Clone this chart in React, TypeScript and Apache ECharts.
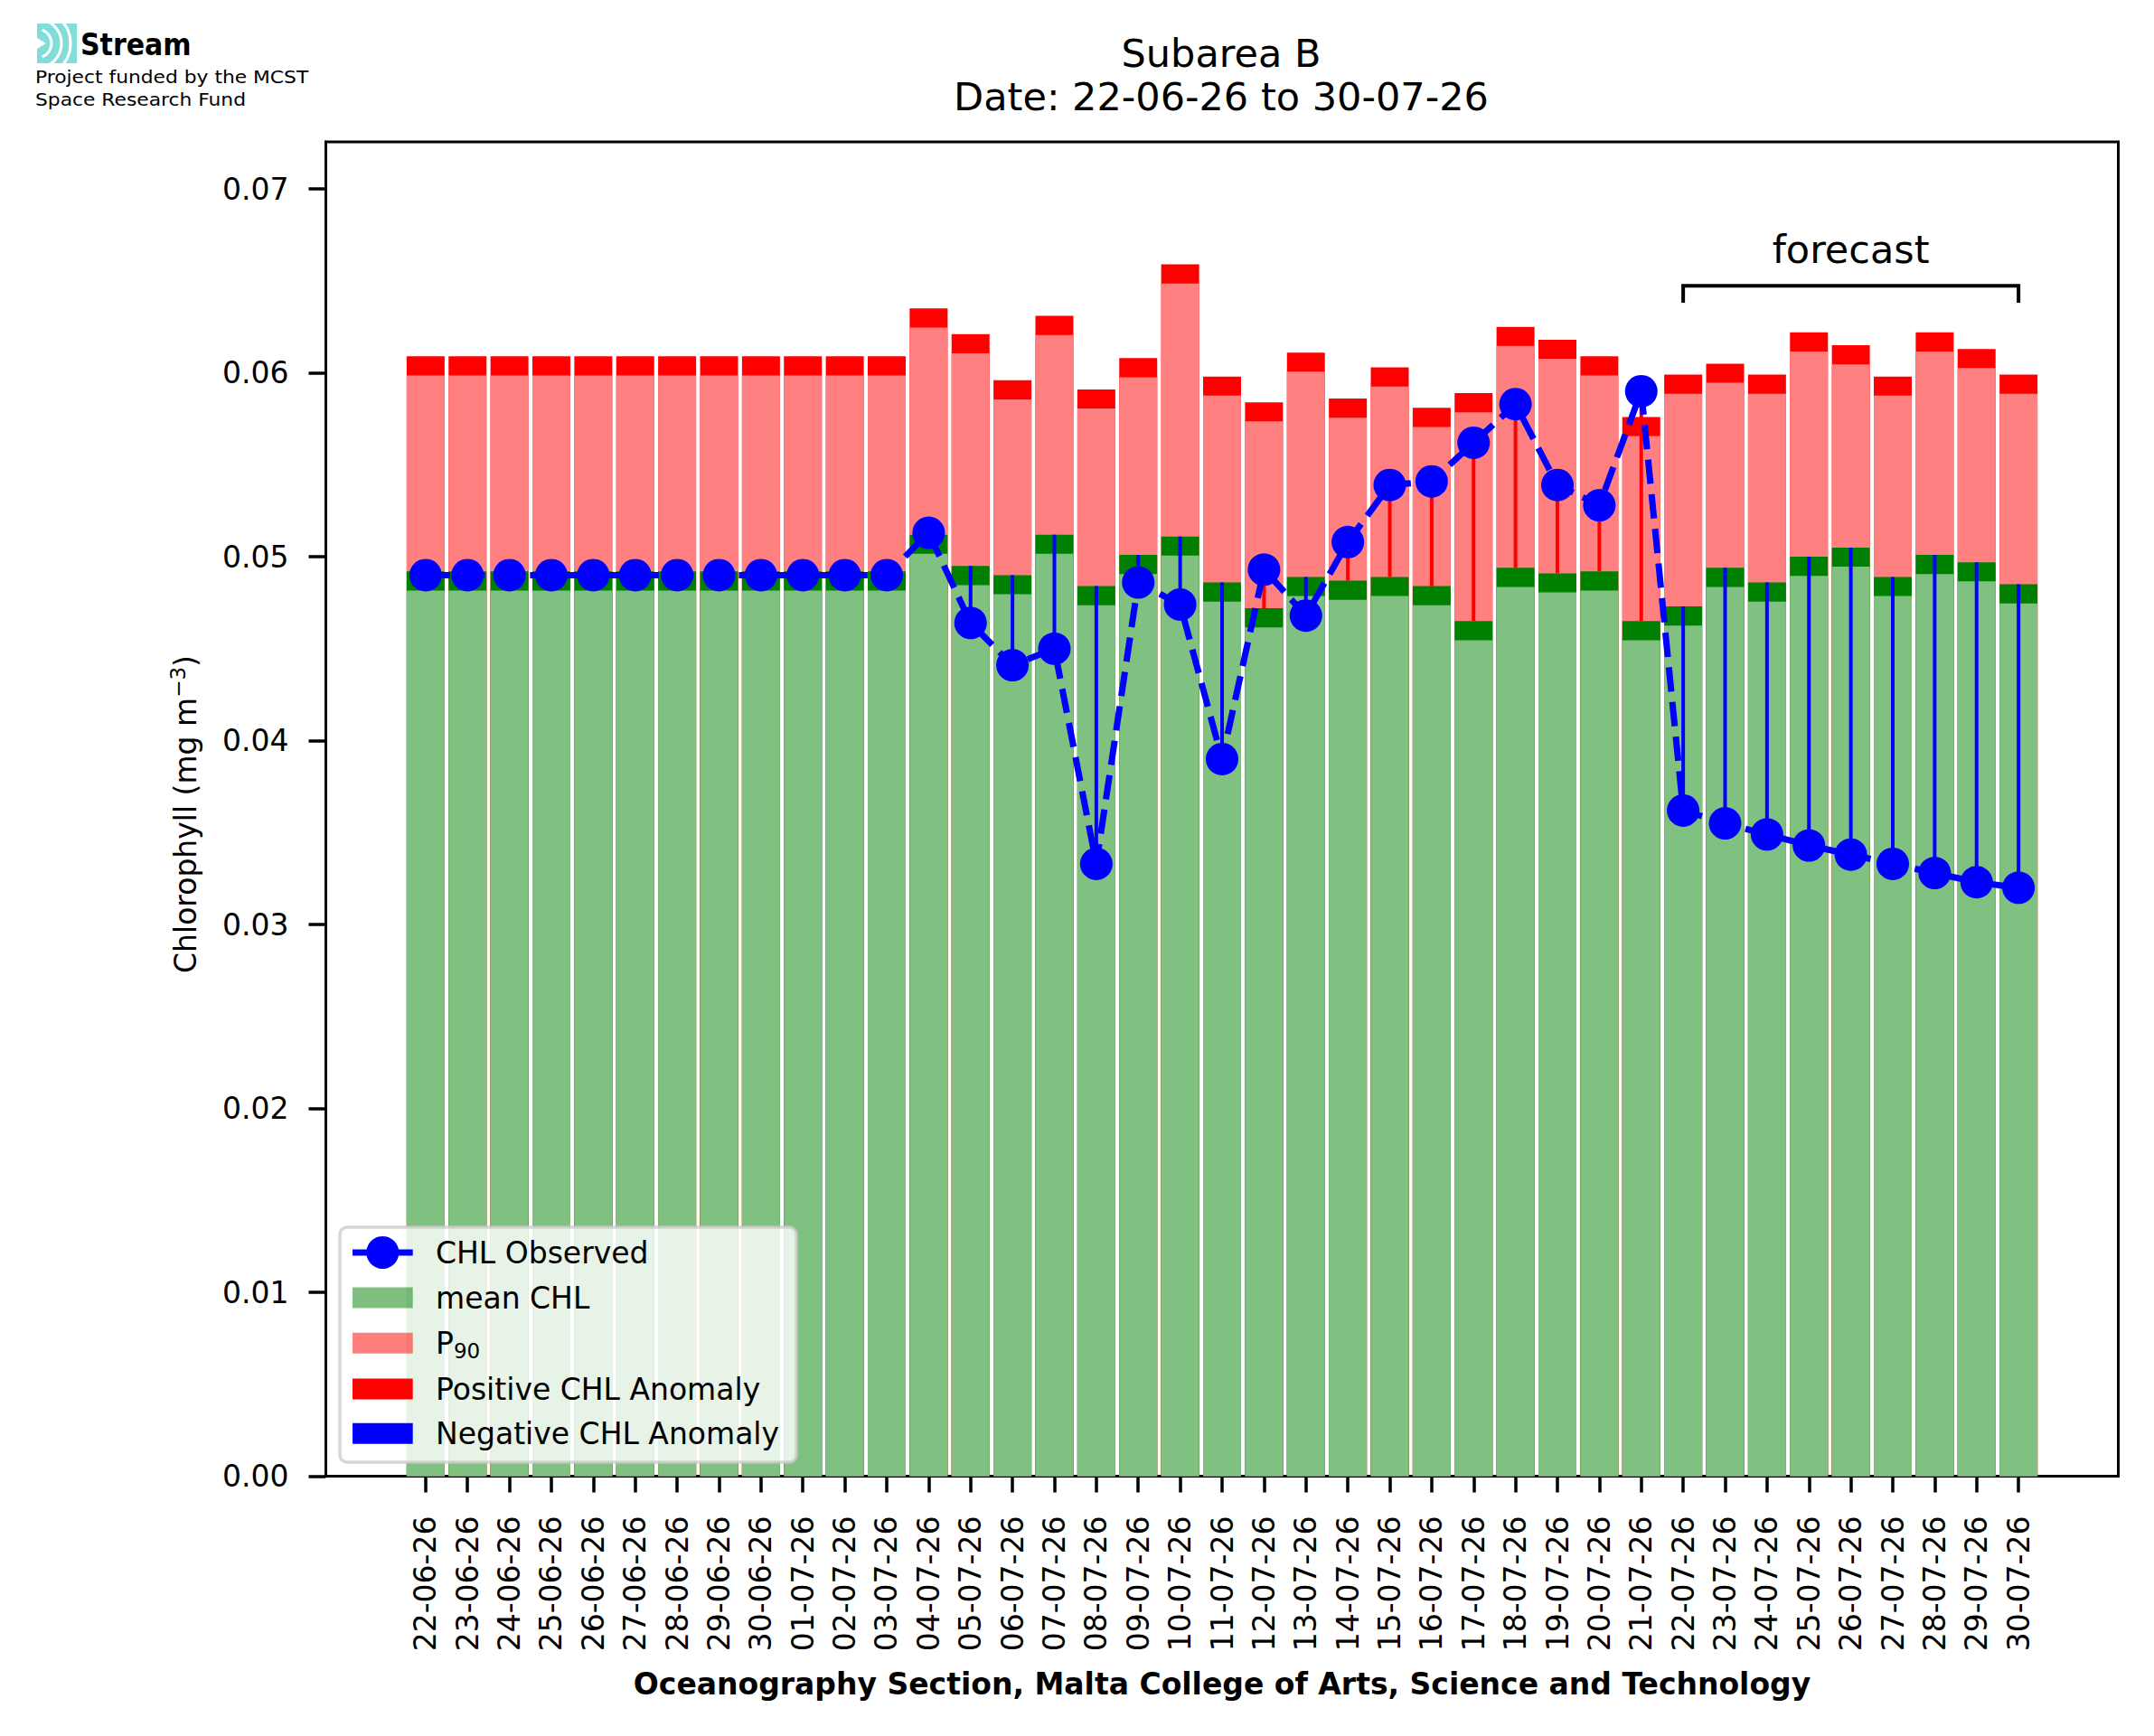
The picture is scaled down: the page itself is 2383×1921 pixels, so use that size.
import React, { useEffect, useRef } from "react";
import * as echarts from "echarts";

// ---- data ----
const dates = [
  "22-06-26", "23-06-26", "24-06-26", "25-06-26", "26-06-26", "27-06-26", "28-06-26", "29-06-26", "30-06-26",
  "01-07-26", "02-07-26", "03-07-26", "04-07-26", "05-07-26", "06-07-26", "07-07-26", "08-07-26", "09-07-26",
  "10-07-26", "11-07-26", "12-07-26", "13-07-26", "14-07-26", "15-07-26", "16-07-26", "17-07-26", "18-07-26",
  "19-07-26", "20-07-26", "21-07-26", "22-07-26", "23-07-26", "24-07-26", "25-07-26", "26-07-26", "27-07-26",
  "28-07-26", "29-07-26", "30-07-26",
];

const meanCHL = [
  0.0492, 0.0492, 0.0492, 0.0492, 0.0492, 0.0492, 0.0492, 0.0492, 0.0492,
  0.0492, 0.0492, 0.0492, 0.0512, 0.0495, 0.0490, 0.0512, 0.0484, 0.0501,
  0.0511, 0.0486, 0.0472, 0.0489, 0.0487, 0.0489, 0.0484, 0.0465, 0.0494,
  0.0491, 0.0492, 0.0465, 0.0473, 0.0494, 0.0486, 0.0500, 0.0505, 0.0489,
  0.0501, 0.0497, 0.0485,
];

const p90CHL = [
  0.0609, 0.0609, 0.0609, 0.0609, 0.0609, 0.0609, 0.0609, 0.0609, 0.0609,
  0.0609, 0.0609, 0.0609, 0.0635, 0.0621, 0.0596, 0.0631, 0.0591, 0.0608,
  0.0659, 0.0598, 0.0584, 0.0611, 0.0586, 0.0603, 0.0581, 0.0589, 0.0625,
  0.0618, 0.0609, 0.0576, 0.0599, 0.0605, 0.0599, 0.0622, 0.0615, 0.0598,
  0.0622, 0.0613, 0.0599,
];

const observedCHL = [
  0.0490, 0.0490, 0.0490, 0.0490, 0.0490, 0.0490, 0.0490, 0.0490, 0.0490,
  0.0490, 0.0490, 0.0490, 0.0513, 0.0464, 0.0441, 0.0450, 0.0333, 0.0486,
  0.0474, 0.0390, 0.0493, 0.0468, 0.0508, 0.0539, 0.0541, 0.0562, 0.0583,
  0.0539, 0.0528, 0.0590, 0.0362, 0.0355, 0.0349, 0.0343, 0.0338, 0.0333,
  0.0328, 0.0323, 0.0320,
];

const yTicks = [0, 0.01, 0.02, 0.03, 0.04, 0.05, 0.06, 0.07];
const BAND = 0.00104; // thickness of the dark-green / red marker bands
const forecastFrom = 30;
const forecastTo = 38;
const forecastBracketTop = 0.06474;
const forecastBracketEnd = 0.06381;
const forecastLabelY = 0.0667;

const FONT = "DejaVu Sans";

export default function App() {
  const ref = useRef<HTMLDivElement>(null);

  useEffect(() => {
    if (!ref.current) return;
    const chart = echarts.init(ref.current, undefined, { renderer: "svg" });
    const idx = dates.map((_, i) => i);

    const anomaly = (positive: boolean) =>
      idx
        .filter((i) => (positive ? observedCHL[i] > meanCHL[i] : observedCHL[i] <= meanCHL[i]))
        .map((i) => [i, observedCHL[i], meanCHL[i]]);

    const anomalySeries = (name: string, positive: boolean, color: string) => ({
      type: "custom",
      name,
      data: anomaly(positive),
      encode: { x: 0, y: [1, 2] },
      z: 4,
      silent: true,
      renderItem: (_p: any, api: any) => {
        const x = api.value(0);
        const a = api.coord([x, api.value(1)]);
        const b = api.coord([x, api.value(2)]);
        return {
          type: "line",
          shape: { x1: a[0], y1: a[1], x2: b[0], y2: b[1] },
          style: { stroke: color, lineWidth: 4 },
        };
      },
    });

    const barBase = {
      type: "bar",
      barWidth: 42,
      barGap: "-100%",
      silent: true,
    };

    const legendRows = [1386, 1436, 1486.3, 1537, 1586.3];
    const legendTexts = [
      "CHL Observed",
      "mean CHL",
      "{n|P}{s|90}",
      "Positive CHL Anomaly",
      "Negative CHL Anomaly",
    ];
    const legendFills = ["", "rgba(0,128,0,0.5)", "rgba(255,0,0,0.5)", "#ff0000", "#0000ff"];

    const legendGraphics: any[] = [
      {
        type: "rect",
        z: 100,
        shape: { x: 376, y: 1358, width: 505, height: 260, r: 8 },
        style: { fill: "rgba(255,255,255,0.8)", stroke: "rgba(204,204,204,0.8)", lineWidth: 3.5 },
      },
      {
        type: "line",
        z: 101,
        shape: { x1: 390, y1: legendRows[0], x2: 456.7, y2: legendRows[0] },
        style: { stroke: "#0000ff", lineWidth: 7 },
      },
      {
        type: "circle",
        z: 102,
        shape: { cx: 423.3, cy: legendRows[0], r: 18 },
        style: { fill: "#0000ff" },
      },
    ];
    for (let k = 1; k < 5; k++) {
      legendGraphics.push({
        type: "rect",
        z: 101,
        shape: { x: 390, y: legendRows[k] - 11.5, width: 66.7, height: 23 },
        style: { fill: legendFills[k] },
      });
    }
    legendTexts.forEach((t, k) => {
      legendGraphics.push({
        type: "text",
        z: 101,
        x: 482,
        y: legendRows[k] + 0.5,
        style: {
          text: t,
          fill: "#000",
          fontSize: 33,
          fontFamily: FONT,
          align: "left",
          verticalAlign: "middle",
          rich: {
            n: { fontSize: 33, fontFamily: FONT, lineHeight: 40, fill: "#000" },
            s: { fontSize: 23, fontFamily: FONT, lineHeight: 25, verticalAlign: "bottom", fill: "#000" },
          },
        },
      });
    });

    const logo: any[] = [
      {
        type: "rect",
        shape: { x: 41, y: 26, width: 44, height: 44 },
        style: { fill: "#80ddd8" },
      },
      {
        type: "polygon",
        shape: { points: [[41, 42], [51, 48], [41, 54]] },
        style: { fill: "#ffffff" },
      },
      {
        type: "arc",
        shape: { cx: 41, cy: 48, r: 16, startAngle: -Math.PI / 2.6, endAngle: Math.PI / 2.6 },
        style: { stroke: "#ffffff", lineWidth: 3, fill: "none" },
      },
      {
        type: "arc",
        shape: { cx: 41, cy: 48, r: 27, startAngle: -Math.PI / 2.9, endAngle: Math.PI / 2.9 },
        style: { stroke: "#ffffff", lineWidth: 3, fill: "none" },
      },
      {
        type: "arc",
        shape: { cx: 41, cy: 48, r: 37, startAngle: -Math.PI / 3.6, endAngle: Math.PI / 3.6 },
        style: { stroke: "#ffffff", lineWidth: 3, fill: "none" },
      },
      {
        type: "text",
        x: 89,
        y: 49.6,
        scaleX: 0.91,
        style: {
          text: "Stream",
          fill: "#000",
          fontSize: 33,
          fontWeight: "bold",
          fontFamily: FONT,
          align: "left",
          verticalAlign: "middle",
        },
      },
      {
        type: "text",
        x: 39,
        y: 85.4,
        scaleX: 1.09,
        style: {
          text: "Project funded by the MCST",
          fill: "#000",
          fontSize: 20,
          fontFamily: FONT,
          align: "left",
          verticalAlign: "middle",
        },
      },
      {
        type: "text",
        x: 39,
        y: 110.8,
        scaleX: 1.09,
        style: {
          text: "Space Research Fund",
          fill: "#000",
          fontSize: 20,
          fontFamily: FONT,
          align: "left",
          verticalAlign: "middle",
        },
      },
    ];

    const texts: any[] = [
      {
        type: "text",
        x: 1351,
        y: 59.1,
        style: {
          text: "Subarea B",
          fill: "#000",
          fontSize: 43,
          fontFamily: FONT,
          align: "center",
          verticalAlign: "middle",
        },
      },
      {
        type: "text",
        x: 1351,
        y: 106.8,
        style: {
          text: "Date: 22-06-26 to 30-07-26",
          fill: "#000",
          fontSize: 43,
          fontFamily: FONT,
          align: "center",
          verticalAlign: "middle",
        },
      },
      {
        type: "text",
        x: 1352,
        y: 1863.6,
        style: {
          text: "Oceanography Section, Malta College of Arts, Science and Technology",
          fill: "#000",
          fontSize: 33,
          fontWeight: "bold",
          fontFamily: FONT,
          align: "center",
          verticalAlign: "middle",
        },
      },
      {
        type: "text",
        x: 205.5,
        y: 901,
        rotation: Math.PI / 2,
        style: {
          text: "{n|Chlorophyll (mg m}{s|−3}{n|)}",
          fill: "#000",
          align: "center",
          verticalAlign: "middle",
          rich: {
            n: { fontSize: 33, fontFamily: FONT, lineHeight: 40, fill: "#000" },
            s: { fontSize: 23, fontFamily: FONT, verticalAlign: "top", lineHeight: 40, fill: "#000" },
          },
        },
      },
    ];

    const option: any = {
      animation: false,
      backgroundColor: "#ffffff",
      grid: {
        left: 360.5,
        right: 39.5,
        top: 157,
        bottom: 287.5,
        show: true,
        borderColor: "#000",
        borderWidth: 3,
        backgroundColor: "transparent",
      },
      xAxis: {
        type: "value",
        min: -2.38,
        max: 40.38,
        axisLine: { show: true, onZero: false, lineStyle: { color: "#000", width: 3 } },
        axisTick: { show: true, customValues: idx, length: 18, lineStyle: { color: "#000", width: 3.5 } },
        axisLabel: {
          show: true,
          customValues: idx,
          formatter: (v: number) => dates[Math.round(v)] ?? "",
          rotate: 90,
          margin: 44,
          fontSize: 33,
          fontFamily: FONT,
          color: "#000",
        },
        splitLine: { show: false },
      },
      yAxis: {
        type: "value",
        min: 0,
        max: 0.07256,
        axisLine: { show: true, onZero: false, lineStyle: { color: "#000", width: 3 } },
        axisTick: { show: true, customValues: yTicks, length: 19, lineStyle: { color: "#000", width: 3.5 } },
        axisLabel: {
          show: true,
          customValues: yTicks,
          formatter: (v: number) => v.toFixed(2),
          margin: 41,
          fontSize: 33,
          fontFamily: FONT,
          color: "#000",
        },
        splitLine: { show: false },
      },
      series: [
        {
          ...barBase,
          name: "P90 band",
          itemStyle: { color: "#ff0000" },
          data: idx.map((i) => [i, p90CHL[i]]),
        },
        {
          ...barBase,
          name: "P90",
          itemStyle: { color: "#ff8080" },
          data: idx.map((i) => [i, p90CHL[i] - BAND]),
        },
        {
          ...barBase,
          name: "mean band",
          itemStyle: { color: "#008000" },
          data: idx.map((i) => [i, meanCHL[i]]),
        },
        {
          ...barBase,
          name: "mean CHL",
          itemStyle: { color: "#80c080" },
          data: idx.map((i) => [i, meanCHL[i] - BAND]),
        },
        anomalySeries("Positive CHL Anomaly", true, "#ff0000"),
        anomalySeries("Negative CHL Anomaly", false, "#0000ff"),
        {
          type: "line",
          name: "CHL Observed",
          z: 10,
          silent: true,
          data: idx.map((i) => [i, observedCHL[i]]),
          symbol: "circle",
          symbolSize: 36,
          showSymbol: true,
          itemStyle: { color: "#0000ff" },
          lineStyle: { color: "#0000ff", width: 7, type: [27, 11.5] },
        },
        {
          type: "line",
          name: "forecast bracket",
          z: 10,
          silent: true,
          symbol: "none",
          data: [
            [forecastFrom, forecastBracketEnd],
            [forecastFrom, forecastBracketTop],
            [forecastTo, forecastBracketTop],
            [forecastTo, forecastBracketEnd],
          ],
          lineStyle: { color: "#000", width: 4, cap: "butt", join: "miter" },
        },
        {
          type: "custom",
          name: "forecast label",
          z: 10,
          silent: true,
          data: [[(forecastFrom + forecastTo) / 2, forecastLabelY]],
          encode: { x: 0, y: 1 },
          renderItem: (_p: any, api: any) => {
            const pt = api.coord([api.value(0), api.value(1)]);
            return {
              type: "text",
              x: pt[0],
              y: pt[1],
              style: {
                text: "forecast",
                fill: "#000",
                fontSize: 43,
                fontFamily: FONT,
                align: "center",
                verticalAlign: "middle",
              },
            };
          },
        },
      ],
      graphic: [...logo, ...texts, ...legendGraphics],
    };

    chart.setOption(option);
    return () => chart.dispose();
  }, []);

  return (
    <div
      ref={ref}
      style={{ position: "absolute", left: 0, top: 0, width: 2383, height: 1921, background: "#fff" }}
    />
  );
}
